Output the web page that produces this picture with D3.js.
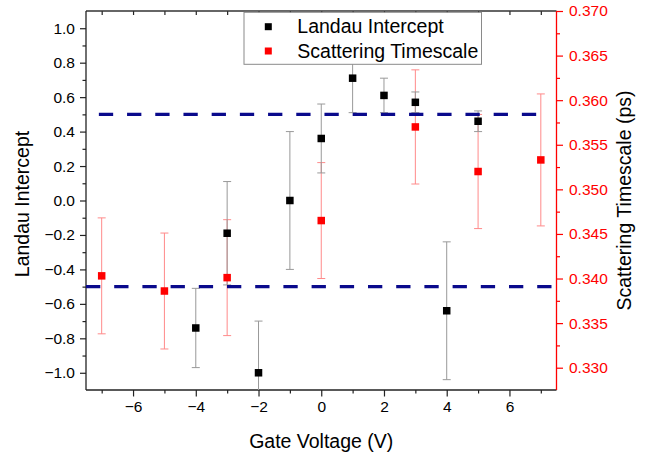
<!DOCTYPE html>
<html>
<head>
<meta charset="utf-8">
<script src="https://cdn.jsdelivr.net/npm/d3@7"></script>
<style>
body { margin: 0; background: #fff; }
text { font-family: "Liberation Sans", Arial, sans-serif; }
</style>
</head>
<body>
<div id="chart"></div>
<script>
// data
var gateVoltageLandau = [-4, -3, -2, -1, 0, 1, 2, 3, 4, 5];
var landauIntercept = [-0.74, -0.19, -1.00, 0.00, 0.36, 0.71, 0.61, 0.57, -0.64, 0.46];
var landauError = [0.23, 0.30, 0.30, 0.40, 0.20, 0.20, 0.10, 0.06, 0.40, 0.06];

var gateVoltageScatter = [-7, -5, -3, 0, 3, 5, 7];
var scatterTime = [0.3403, 0.3386, 0.3401, 0.3465, 0.3570, 0.3520, 0.3533];
var scatterError = [0.0065, 0.0065, 0.0065, 0.0065, 0.0064, 0.0064, 0.0074];

// dashed reference lines (on the left axis)
var refLevels = [0.5, -0.5];
var refStart = [-7.09, -7.5];
var refEnd = [6.88, 7.37];

var xTicks = [-6, -4, -2, 0, 2, 4, 6];
var leftTicks = [-1.0, -0.8, -0.6, -0.4, -0.2, 0.0, 0.2, 0.4, 0.6, 0.8, 1.0];
var rightTicks = [0.330, 0.335, 0.340, 0.345, 0.350, 0.355, 0.360, 0.365, 0.370];

var legendLabels = ["Landau Intercept", "Scattering Timescale"];

//set dimensions and margins for chart area
var svgWidth = 657;
var svgHeight = 455;

var margin = {
top: 11,
right: 100.5,
bottom: 65,
left: 86
};

var width = svgWidth - margin.left - margin.right;
var height = svgHeight - margin.top - margin.bottom;

var svg = d3.select("#chart")
.append("svg")
.attr("width", svgWidth)
.attr("height", svgHeight);

var chartGroup = svg.append("g")
.attr("transform", `translate(${margin.left}, ${margin.top})`);

// scales
var xScale = d3.scaleLinear().domain([-7.5, 7.5]).range([0, width]);
var yLeft = d3.scaleLinear().domain([-1.1, 1.1]).range([height, 0]);
var yRight = d3.scaleLinear().domain([0.3275, 0.370]).range([height, 0]);

chartGroup.append("clipPath")
.attr("id", "plotclip")
.append("rect")
.attr("width", width)
.attr("height", height);

// bottom axis: majors with labels, minors at odd volts
var bottomAxis = d3.axisBottom(xScale)
.tickValues(xTicks)
.tickSize(6.5)
.tickPadding(4)
.tickFormat(d3.format("d"));
var xAxis = chartGroup.append("g")
.attr("transform", `translate(0, ${height})`)
.call(bottomAxis);

chartGroup.append("g")
.attr("transform", `translate(0, ${height})`)
.call(d3.axisBottom(xScale).tickValues(d3.range(-7, 8, 2)).tickSize(3.5).tickFormat(""));

// top mirror ticks
chartGroup.append("g")
.call(d3.axisBottom(xScale).tickValues(d3.range(-7, 8, 1)).tickSize(4).tickFormat(""));

// left axis
var leftAxis = d3.axisLeft(yLeft)
.tickValues(leftTicks)
.tickSize(6)
.tickPadding(5)
.tickFormat(d3.format(".1f"));
var yAxis = chartGroup.append("g").call(leftAxis);

chartGroup.append("g")
.call(d3.axisLeft(yLeft).tickValues(d3.range(-0.9, 1.0, 0.2)).tickSize(3.5).tickFormat(""));

// right axis in red
var rightAxis = d3.axisRight(yRight)
.tickValues(rightTicks)
.tickSize(6.5)
.tickPadding(6)
.tickFormat(d3.format(".3f"));
var yAxis2 = chartGroup.append("g")
.attr("transform", `translate(${width}, 0)`)
.call(rightAxis);

chartGroup.append("g")
.attr("transform", `translate(${width}, 0)`)
.call(d3.axisRight(yRight).tickValues(d3.range(0.3325, 0.369, 0.005)).tickSize(3.5).tickFormat(""))
.attr("class", "minorRight");

// axis styling
chartGroup.selectAll(".domain").remove();
chartGroup.selectAll(".tick line").attr("stroke", "#222").attr("stroke-width", 1.2);
chartGroup.selectAll(".tick text")
.attr("fill", "#000")
.style("font-size", "15.5px");
yAxis2.selectAll(".tick line").attr("stroke", "#ff0000");
yAxis2.selectAll(".tick text").attr("fill", "#ff0000");
chartGroup.select(".minorRight").selectAll(".tick line").attr("stroke", "#ff0000");

// frame lines
chartGroup.append("line").attr("x1", 0).attr("x2", width).attr("y1", 0).attr("y2", 0)
.attr("stroke", "#333").attr("stroke-width", 1.3);
chartGroup.append("line").attr("x1", 0).attr("x2", width).attr("y1", height).attr("y2", height)
.attr("stroke", "#222").attr("stroke-width", 1.3);
chartGroup.append("line").attr("x1", 0).attr("x2", 0).attr("y1", 0).attr("y2", height)
.attr("stroke", "#222").attr("stroke-width", 1.3);
chartGroup.append("line").attr("x1", width).attr("x2", width).attr("y1", 0).attr("y2", height)
.attr("stroke", "#ff0000").attr("stroke-width", 1.3);

var plot = chartGroup.append("g").attr("clip-path", "url(#plotclip)");

// error bars
function drawErrors(xs, ys, es, yScale, color) {
    var g = plot.append("g").attr("stroke", color).attr("stroke-width", 1);
    xs.forEach(function(x, i) {
        var cx = xScale(x);
        var top = yScale(ys[i] + es[i]);
        var bot = yScale(ys[i] - es[i]);
        g.append("line").attr("x1", cx).attr("x2", cx).attr("y1", top).attr("y2", bot);
        g.append("line").attr("x1", cx - 4).attr("x2", cx + 4).attr("y1", top).attr("y2", top);
        g.append("line").attr("x1", cx - 4).attr("x2", cx + 4).attr("y1", bot).attr("y2", bot);
    });
}

drawErrors(gateVoltageScatter, scatterTime, scatterError, yRight, "#ff8a8a");
drawErrors(gateVoltageLandau, landauIntercept, landauError, yLeft, "#999");

// dashed navy lines
plot.selectAll(".ref")
.data(refLevels)
.enter()
.append("line")
.attr("x1", (d, i) => xScale(refStart[i]))
.attr("x2", (d, i) => xScale(refEnd[i]))
.attr("y1", d => yLeft(d))
.attr("y2", d => yLeft(d))
.attr("stroke", "#0a0a8c")
.attr("stroke-width", 3.2)
.attr("stroke-dasharray", "14.3,13.9");

// square markers
var ms = 7.5;
plot.selectAll(".landau")
.data(gateVoltageLandau)
.enter()
.append("rect")
.attr("x", d => xScale(d) - ms / 2)
.attr("y", (d, i) => yLeft(landauIntercept[i]) - ms / 2)
.attr("width", ms)
.attr("height", ms)
.attr("fill", "#000");

plot.selectAll(".scatter")
.data(gateVoltageScatter)
.enter()
.append("rect")
.attr("x", d => xScale(d) - ms / 2)
.attr("y", (d, i) => yRight(scatterTime[i]) - ms / 2)
.attr("width", ms)
.attr("height", ms)
.attr("fill", "#ff0000");

// legend
var legend = chartGroup.append("g")
.attr("transform", `translate(${244 - margin.left}, ${12.3 - margin.top})`);

legend.append("rect")
.attr("width", 237.5)
.attr("height", 52)
.attr("fill", "#fff")
.attr("stroke", "#8a8a8a")
.attr("stroke-width", 1);

var legendColors = ["#000", "#ff0000"];
legendLabels.forEach(function(label, i) {
    legend.append("rect")
    .attr("x", 24.3 - 3.5)
    .attr("y", 14.4 + i * 24.3 - 3.5)
    .attr("width", 7)
    .attr("height", 7)
    .attr("fill", legendColors[i]);
    legend.append("text")
    .attr("x", 53.3)
    .attr("y", 21.2 + i * 24.3)
    .style("font-size", "19.5px")
    .attr("fill", "#000")
    .text(label);
});

// axis titles
svg.append("text")
.attr("x", margin.left + width / 2)
.attr("y", 448)
.attr("text-anchor", "middle")
.style("font-size", "19.5px")
.text("Gate Voltage (V)");

svg.append("text")
.attr("transform", "translate(29, 204) rotate(-90)")
.attr("text-anchor", "middle")
.style("font-size", "19.5px")
.text("Landau Intercept");

svg.append("text")
.attr("transform", "translate(631, 200.5) rotate(-90)")
.attr("text-anchor", "middle")
.style("font-size", "19.5px")
.text("Scattering Timescale (ps)");
</script>
</body>
</html>
